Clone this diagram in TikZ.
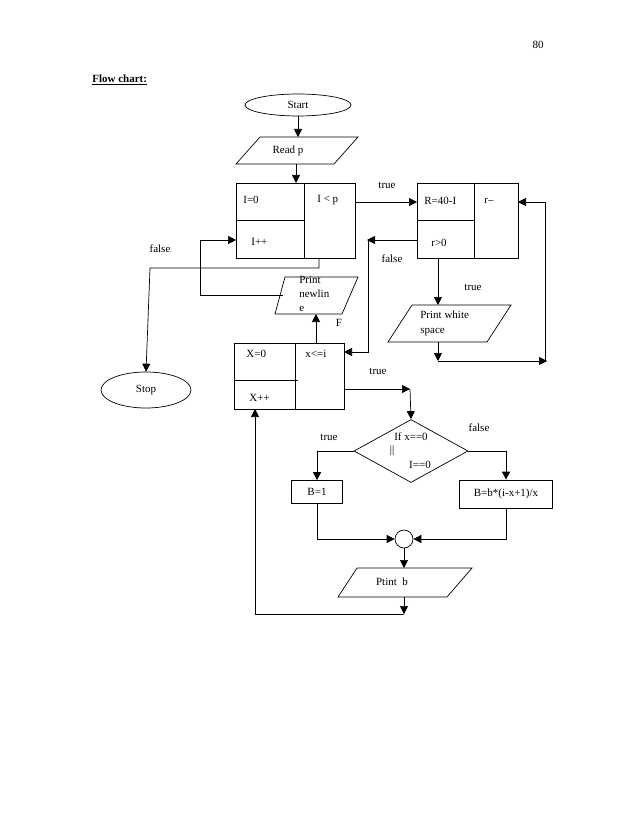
\documentclass[tikz,border=0pt]{standalone}
\usepackage{fontspec}
\setmainfont{Liberation Serif}
\usetikzlibrary{arrows.meta,shapes.geometric}
\begin{document}
\begin{tikzpicture}[x=1pt,y=-1pt,line width=0.7pt,
  >={Triangle[length=8pt,width=8pt]},
  txt/.style={font=\fontsize{11}{12}\selectfont,inner sep=0pt},
  lab/.style={txt,anchor=west}]
\useasboundingbox (0,0) rectangle (638,826);
\node[txt] (pg) at (538,45) {80};
\node[txt,anchor=west,font=\bfseries\fontsize{11}{12}\selectfont] (title) at (92,80) {\underline{Flow chart:}};
% start / stop
\node[draw,ellipse,minimum width=106pt,minimum height=22pt,txt] (start) at (298,105) {Start};
\node[draw,ellipse,minimum width=90pt,minimum height=36pt,txt] (stop) at (146,390) {Stop};
% read p
\draw (260,137) -- (358,137) -- (334,164) -- (236,164) -- cycle;
\node[txt] (readp) at (288,151) {Read p};
\coordinate (rpT) at (298,137); \coordinate (rpB) at (296,164);
\draw[->] (start) -- (rpT);
% box1
\draw (236,183) rectangle (355,258); \draw (304,183) -- (304,258); \draw (236,220) -- (304,220);
\node[lab] (i0) at (243,200) {I=0};
\node[lab] (ilp) at (317,200) {I < p};
\node[lab] (ipp) at (251,242) {I++};
\coordinate (b1T) at (296,183);
\draw[->] (rpB) -- (b1T);
% box2
\draw (417,183) rectangle (518,258); \draw (474,183) -- (474,258); \draw (417,220) -- (474,220);
\node[lab] (r40) at (424,201) {R=40-I};
\node[lab] (rmm) at (484,201) {r--};
\node[lab] (rg0) at (431,243) {r>0};
\coordinate (b1R) at (355,202); \coordinate (b2L) at (417,202);
\draw[->] (b1R) -- (b2L);
\node[txt] (t1) at (387,185) {true};
% false to stop
\coordinate (b1B) at (319,258);
\draw[->] (b1B) -- (319,268) -- (150,268) -- (stop.north);
\node[txt] (f1) at (160,249) {false};
% print newline
\draw (285,277) -- (358,277) -- (342,314) -- (275,314) -- cycle;
\node[txt,anchor=north west,align=left,font=\fontsize{11}{14}\selectfont] (pnl) at (299,276) {Print\\newlin\\e};
\coordinate (pnL) at (283,295); \coordinate (b1L) at (236,240);
\draw[->] (pnL) -- (200,295) -- (200,240) -- (b1L);
% box3
\draw (234,343) rectangle (344,409); \draw (295,343) -- (295,409); \draw (234,380) -- (298,380);
\node[lab] (x0) at (246,354) {X=0};
\node[lab] (xle) at (305,354) {x<=i};
\node[lab] (xpp) at (249,398) {X++};
\coordinate (b3T) at (316,343); \coordinate (pnB) at (316,314);
\draw[->] (b3T) -- (pnB);
\node[txt] (F) at (339,323) {F};
% box2 false
\coordinate (b2Lf) at (417,240); \coordinate (b3R) at (344,352);
\draw[->] (b2Lf) -- (367,240);
\draw[->] (368,240) -- (368,352) -- (b3R);
\node[txt] (f2) at (392,259) {false};
% print white space
\draw (412,305) -- (511,305) -- (487,342) -- (388,342) -- cycle;
\node[txt,anchor=north west,align=left,font=\fontsize{11}{15}\selectfont] (pws) at (420,311) {Print white\\space};
\coordinate (b2B) at (438,258); \coordinate (pwT) at (438,305); \coordinate (pwB) at (438,342);
\draw[->] (b2B) -- (pwT);
\node[txt] (t2) at (473,287) {true};
\draw[->] (pwB) -- (438,361);
\coordinate (b2R) at (518,202);
\draw[->] (438,361) -- (547,361);
\draw[->] (545,361) -- (545,202) -- (b2R);
% box3 true to diamond
\node[draw,diamond,minimum width=114pt,minimum height=63pt,inner sep=0pt,aspect=1.8] (dia) at (411,451) {};
\node[txt] (d1) at (411,437) {If x==0};
\node[txt] (d2) at (392,451) {||};
\node[txt] (d3) at (420,465) {I==0};
\coordinate (b3Rt) at (344,389);
\draw[->] (b3Rt) -- (410,389);
\draw[->] (410,389) -- (dia.north);
\node[txt] (t3) at (378,371) {true};
% branches
\node[draw,txt,minimum width=51pt,minimum height=23pt] (b1) at (317,492) {B=1};
\node[draw,txt,minimum width=93pt,minimum height=28pt] (bb) at (506,494) {B=b*(i-x+1)/x};
\draw[->] (dia.west) -- (317,451) -- (b1.north);
\draw[->] (dia.east) -- (506,451) -- (bb.north);
\node[txt] (t4) at (329,437) {true};
\node[txt] (f4) at (479,428) {false};
% join
\node[draw,circle,minimum size=18pt,inner sep=0pt] (jn) at (404,539) {};
\draw[->] (b1.south) -- (317,539) -- (jn.west);
\draw[->] (bb.south) -- (506,539) -- (jn.east);
% print b
\draw (357,568) -- (472,568) -- (447,597) -- (338,597) -- cycle;
\node[txt] (ptb) at (392,582) {Ptint\ \ b};
\coordinate (pbT) at (404,568); \coordinate (pbB) at (404,597);
\draw[->] (jn.south) -- (pbT);
\draw[->] (pbB) -- (404,614);
\coordinate (b3B) at (255,409);
\draw[->] (404,614) -- (255,614) -- (b3B);
\end{tikzpicture}
\end{document}
